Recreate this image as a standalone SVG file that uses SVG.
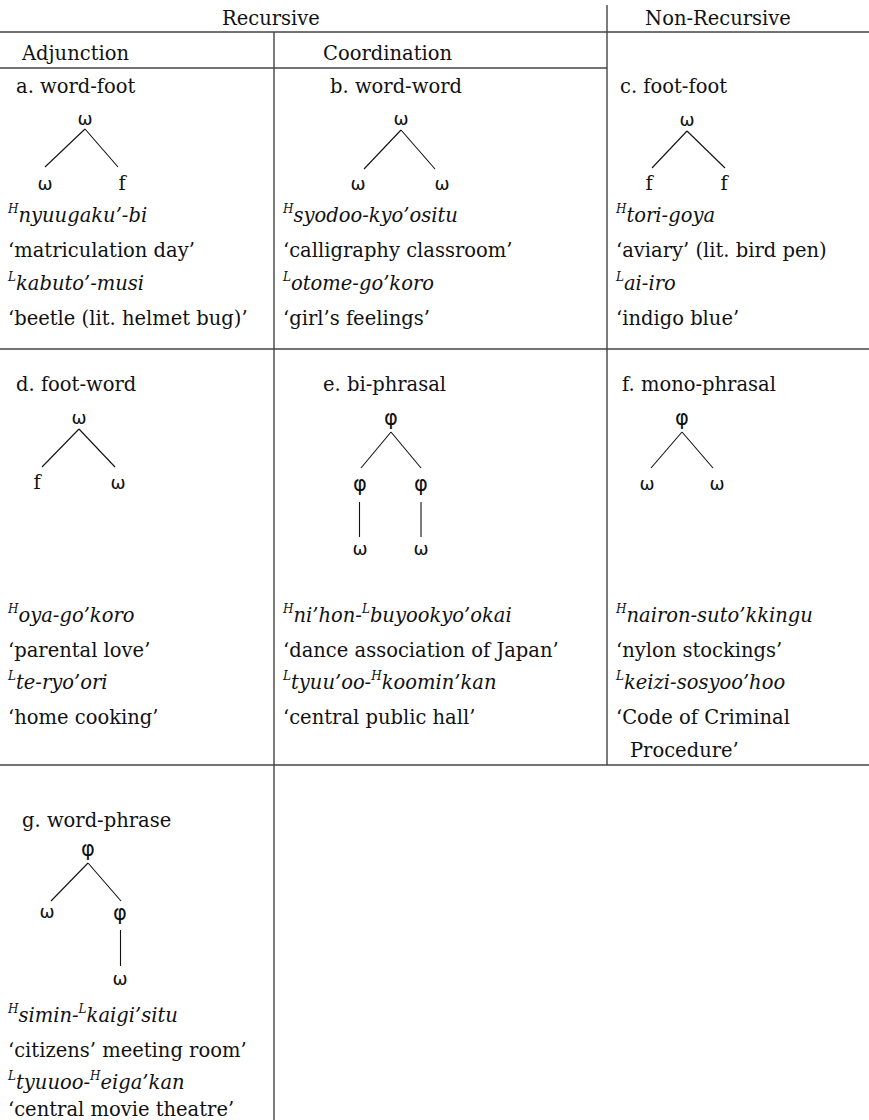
<svg xmlns="http://www.w3.org/2000/svg" width="869" height="1120" viewBox="0 0 869 1120">
<style>
text{font-family:"DejaVu Serif","Liberation Serif",serif;font-size:19.5px;fill:#111}
.it{font-style:italic}
.sup{font-style:italic;font-size:12px}
.sym{font-family:"DejaVu Sans","Liberation Sans",sans-serif;font-size:18px;text-anchor:middle}
.phi{font-family:"DejaVu Sans","Liberation Sans",sans-serif;font-size:21px;text-anchor:middle}
.ft{text-anchor:middle}
.grid line{stroke:#444;stroke-width:1.4}
.edges line{stroke:#111;stroke-width:1.1}
</style>
<rect width="869" height="1120" fill="#fff"/>
<g class="grid" id="grid">
<line x1="0" y1="32" x2="869" y2="32"/>
<line x1="607" y1="5" x2="607" y2="765"/>
<line x1="0" y1="68" x2="607" y2="68"/>
<line x1="274" y1="32" x2="274" y2="1120"/>
<line x1="0" y1="349" x2="869" y2="349"/>
<line x1="0" y1="765" x2="869" y2="765"/>
</g>
<g id="headers">
<text x="271" y="25" text-anchor="middle">Recursive</text>
<text x="718" y="25" text-anchor="middle">Non-Recursive</text>
<text x="22" y="60">Adjunction</text>
<text x="323" y="60">Coordination</text>
</g>
<g class="edges" id="connectors">
<line x1="85" y1="129" x2="45" y2="167"/>
<line x1="85" y1="129" x2="118" y2="167"/>
<line x1="401" y1="130" x2="364" y2="169"/>
<line x1="401" y1="130" x2="435" y2="169"/>
<line x1="687" y1="131" x2="652" y2="168"/>
<line x1="687" y1="131" x2="725" y2="168"/>
<line x1="79" y1="429" x2="42" y2="467"/>
<line x1="79" y1="429" x2="115" y2="467"/>
<line x1="391" y1="432" x2="361" y2="468"/>
<line x1="391" y1="432" x2="421" y2="468"/>
<line x1="359.5" y1="502" x2="359.5" y2="537"/>
<line x1="421" y1="502" x2="421" y2="537"/>
<line x1="682" y1="432" x2="651" y2="468"/>
<line x1="682" y1="432" x2="713" y2="468"/>
<line x1="88" y1="863" x2="51" y2="901"/>
<line x1="88" y1="863" x2="121" y2="901"/>
<line x1="120.5" y1="930" x2="120.5" y2="966"/>
</g>
<g id="cell-a">
<text x="16" y="93">a. word-foot</text>
<text class="sym" x="85" y="125">ω</text>
<text class="sym" x="45" y="190">ω</text>
<text class="ft" x="122" y="190">f</text>
<text x="8" y="222" class="it"><tspan class="sup" dy="-9">H</tspan><tspan dy="9">nyuugaku’-bi</tspan></text>
<text x="8" y="257">‘matriculation day’</text>
<text x="8" y="290" class="it"><tspan class="sup" dy="-9">L</tspan><tspan dy="9">kabuto’-musi</tspan></text>
<text x="8" y="325">‘beetle (lit. helmet bug)’</text>
</g>
<g id="cell-b">
<text x="330" y="93">b. word-word</text>
<text class="sym" x="401" y="125">ω</text>
<text class="sym" x="358" y="190">ω</text>
<text class="sym" x="442" y="190">ω</text>
<text x="283" y="222" class="it"><tspan class="sup" dy="-9">H</tspan><tspan dy="9">syodoo-kyo’ositu</tspan></text>
<text x="283" y="257">‘calligraphy classroom’</text>
<text x="283" y="290" class="it"><tspan class="sup" dy="-9">L</tspan><tspan dy="9">otome-go’koro</tspan></text>
<text x="283" y="325">‘girl’s feelings’</text>
</g>
<g id="cell-c">
<text x="620" y="93">c. foot-foot</text>
<text class="sym" x="687" y="126">ω</text>
<text class="ft" x="649" y="190">f</text>
<text class="ft" x="724" y="190">f</text>
<text x="616" y="222" class="it"><tspan class="sup" dy="-9">H</tspan><tspan dy="9">tori-goya</tspan></text>
<text x="616" y="257">‘aviary’ (lit. bird pen)</text>
<text x="616" y="290" class="it"><tspan class="sup" dy="-9">L</tspan><tspan dy="9">ai-iro</tspan></text>
<text x="616" y="325">‘indigo blue’</text>
</g>
<g id="cell-d">
<text x="16" y="391">d. foot-word</text>
<text class="sym" x="79" y="424">ω</text>
<text class="ft" x="37" y="489">f</text>
<text class="sym" x="118" y="489">ω</text>
<text x="8" y="622" class="it"><tspan class="sup" dy="-9">H</tspan><tspan dy="9">oya-go’koro</tspan></text>
<text x="8" y="657">‘parental love’</text>
<text x="8" y="689" class="it"><tspan class="sup" dy="-9">L</tspan><tspan dy="9">te-ryo’ori</tspan></text>
<text x="8" y="724">‘home cooking’</text>
</g>
<g id="cell-e">
<text x="323" y="391">e. bi-phrasal</text>
<text class="phi" x="391" y="425">φ</text>
<text class="phi" x="360" y="491">φ</text>
<text class="phi" x="421" y="491">φ</text>
<text class="sym" x="360" y="555">ω</text>
<text class="sym" x="421" y="555">ω</text>
<text x="283" y="622" class="it"><tspan class="sup" dy="-9">H</tspan><tspan dy="9">ni’hon-</tspan><tspan class="sup" dy="-9">L</tspan><tspan dy="9">buyookyo’okai</tspan></text>
<text x="283" y="657">‘dance association of Japan’</text>
<text x="283" y="689" class="it"><tspan class="sup" dy="-9">L</tspan><tspan dy="9">tyuu’oo-</tspan><tspan class="sup" dy="-9">H</tspan><tspan dy="9">koomin’kan</tspan></text>
<text x="283" y="724">‘central public hall’</text>
</g>
<g id="cell-f">
<text x="622" y="391">f. mono-phrasal</text>
<text class="phi" x="682" y="425">φ</text>
<text class="sym" x="647" y="490">ω</text>
<text class="sym" x="717" y="490">ω</text>
<text x="616" y="622" class="it"><tspan class="sup" dy="-9">H</tspan><tspan dy="9">nairon-suto’kkingu</tspan></text>
<text x="616" y="657">‘nylon stockings’</text>
<text x="616" y="689" class="it"><tspan class="sup" dy="-9">L</tspan><tspan dy="9">keizi-sosyoo’hoo</tspan></text>
<text x="616" y="724">‘Code of Criminal</text>
<text x="630" y="757">Procedure’</text>
</g>
<g id="cell-g">
<text x="22" y="827">g. word-phrase</text>
<text class="phi" x="88" y="856">φ</text>
<text class="sym" x="47" y="918">ω</text>
<text class="phi" x="120" y="920">φ</text>
<text class="sym" x="120" y="985">ω</text>
<text x="8" y="1022" class="it"><tspan class="sup" dy="-9">H</tspan><tspan dy="9">simin-</tspan><tspan class="sup" dy="-9">L</tspan><tspan dy="9">kaigi’situ</tspan></text>
<text x="8" y="1057">‘citizens’ meeting room’</text>
<text x="8" y="1089" class="it"><tspan class="sup" dy="-9">L</tspan><tspan dy="9">tyuuoo-</tspan><tspan class="sup" dy="-9">H</tspan><tspan dy="9">eiga’kan</tspan></text>
<text x="8" y="1116">‘central movie theatre’</text>
</g>
</svg>
